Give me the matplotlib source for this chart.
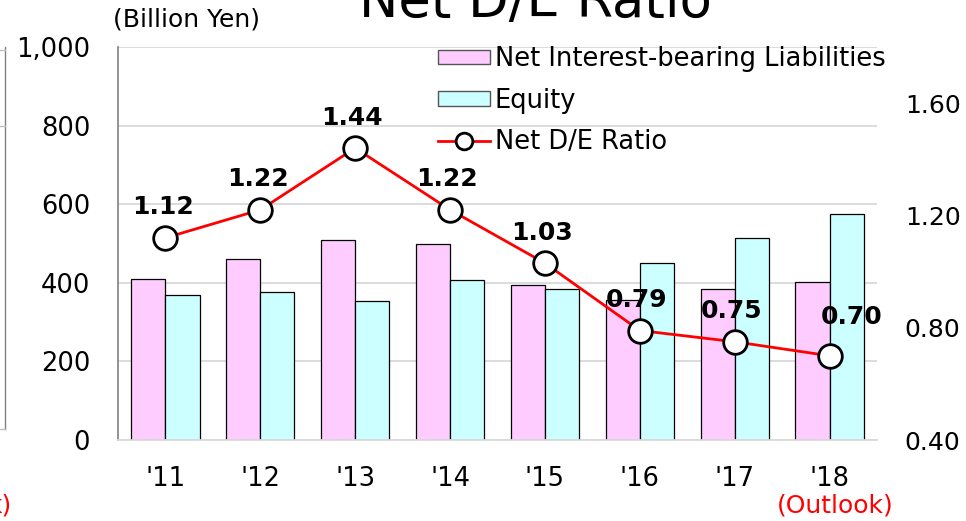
import matplotlib
matplotlib.use("Agg")
import matplotlib.pyplot as plt
import numpy as np
from matplotlib.patches import Patch
from matplotlib.lines import Line2D

plt.rcParams['font.family'] = ['DejaVu Sans']

years = ["'11", "'12", "'13", "'14", "'15", "'16", "'17", "'18"]
liabilities = [410, 461, 510, 498, 394, 356, 384, 403]
equity = [368, 377, 353, 407, 383, 451, 513, 574]
de_ratio = [1.12, 1.22, 1.44, 1.22, 1.03, 0.79, 0.75, 0.70]
de_labels = ["1.12", "1.22", "1.44", "1.22", "1.03", "0.79", "0.75", "0.70"]
left_ticks = [0, 200, 400, 600, 800, 1000]
left_ticklabels = ["0", "200", "400", "600", "800", "1,000"]
right_ticks = [0.40, 0.80, 1.20, 1.60]
right_ticklabels = ["0.40", "0.80", "1.20", "1.60"]

W, H = 966, 521
fig = plt.figure(figsize=(W / 100, H / 100), dpi=100)
ax = fig.add_axes([118 / W, 1 - 440 / H, (877 - 118) / W, (440 - 47) / H])

x = np.arange(len(years))
bw = 0.36
ax.bar(x - bw / 2, liabilities, bw, color='#FFCCFF', edgecolor='black', linewidth=0.9, zorder=2)
ax.bar(x + bw / 2, equity, bw, color='#CCFFFF', edgecolor='black', linewidth=0.9, zorder=2)
ax.set_xlim(-0.5, len(years) - 0.5)
ax.set_ylim(0, 1000)
ax.set_yticks(left_ticks)
ax.set_yticklabels(left_ticklabels)
ax.yaxis.grid(True, color='#d9d9d9', linewidth=1.3, zorder=0)
ax.set_axisbelow(True)
ax.set_xticks(x)
ax.set_xticklabels(years)
ax.tick_params(axis='both', length=0, labelsize=18.5)
ax.tick_params(axis='y', pad=20)
ax.tick_params(axis='x', pad=19)
for s in ['top', 'right']:
    ax.spines[s].set_visible(False)
ax.spines['left'].set_color('#808080')
ax.spines['left'].set_linewidth(1.2)
ax.spines['bottom'].set_color('#d9d9d9')
ax.spines['bottom'].set_linewidth(1.3)

ax2 = ax.twinx()
ax2.set_ylim(0.40, 1.80)
ax2.set_yticks(right_ticks)
ax2.set_yticklabels(right_ticklabels)
ax2.tick_params(axis='y', length=0, labelsize=18, pad=20)
for s in ['top', 'right', 'left', 'bottom']:
    ax2.spines[s].set_visible(False)
ax2.plot(x, de_ratio, color='red', linewidth=2, marker='o', markersize=17,
         markerfacecolor='white', markeredgecolor='black', markeredgewidth=2, zorder=5)
for i, (v, lab) in enumerate(zip(de_ratio, de_labels)):
    dx, dy = -2, 22
    if i == len(years) - 1:
        dx, dy = 16, 28
    ax2.annotate(lab, (x[i], v), xytext=(dx, dy), textcoords='offset points',
                 ha='center', va='center', fontsize=18, fontweight='bold', zorder=6)

handles = [Patch(facecolor='#FFCCFF', edgecolor='#555555', linewidth=1),
           Patch(facecolor='#CCFFFF', edgecolor='#555555', linewidth=1),
           Line2D([0], [0], color='red', linewidth=2, marker='o', markersize=12,
                  markerfacecolor='white', markeredgecolor='black', markeredgewidth=2)]
labels = ['Net Interest-bearing Liabilities', 'Equity', 'Net D/E Ratio']
leg = ax2.legend(handles, labels, loc='upper left', bbox_to_anchor=(433 / W, 1 - 41 / H),
                 bbox_transform=fig.transFigure, frameon=False, fontsize=18.5,
                 handlelength=2.0, handleheight=0.5, handletextpad=0.2, labelspacing=0.6,
                 borderaxespad=0, borderpad=0.2)

fig.text(535 / W, 1 - 17 / H, 'Net D/E Ratio', ha='center', va='baseline', fontsize=38)
fig.text(113 / W, 1 - 20 / H, '(Billion Yen)', ha='left', va='center', fontsize=18)
fig.text(835 / W, 1 - 505 / H, '(Outlook)', ha='center', va='center', fontsize=18, color='red')
fig.text(12 / W, 1 - 505 / H, 'k)', ha='right', va='center', fontsize=18, color='red')

# remnant of neighbouring chart at the left edge
fig.add_artist(Line2D([4.5 / W, 4.5 / W], [1 - 47 / H, 1 - 429 / H], color='#808080', linewidth=1.0))
for yy in [50, 126, 429]:
    fig.add_artist(Line2D([0, 4.5 / W], [1 - yy / H, 1 - yy / H], color='#c0c0c0', linewidth=1.0))

fig.savefig('out.png', dpi=100)
